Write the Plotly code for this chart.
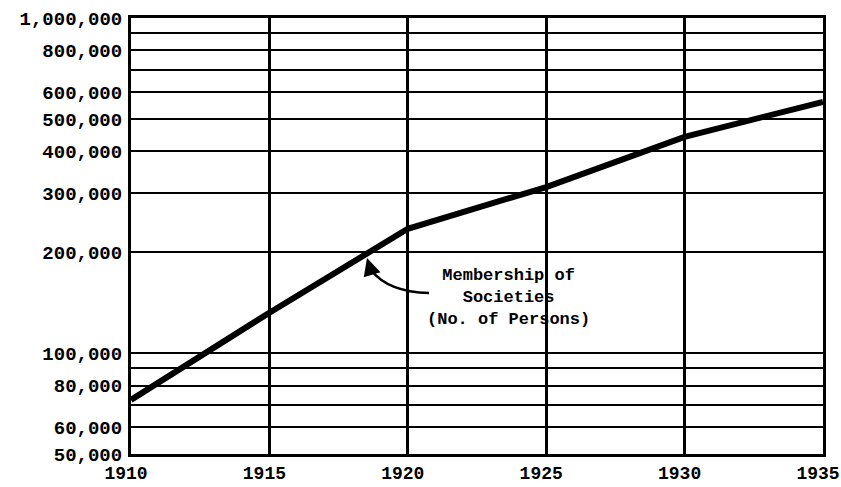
import math
import plotly.graph_objects as go

# Membership of societies, number of persons (log scale)
years = [1910, 1915, 1920, 1925, 1930, 1935]
members = [72500, 132000, 235000, 313000, 442000, 562000]

# Horizontal rules on the ratio scale and the values that carry a label
grid_values = [50000, 60000, 70000, 80000, 90000, 100000, 200000, 300000,
               400000, 500000, 600000, 700000, 800000, 900000, 1000000]
labelled = {50000, 60000, 80000, 100000, 200000, 300000, 400000,
            500000, 600000, 800000, 1000000}
grid_text = [f"{v:,}" if v in labelled else "" for v in grid_values]

year_ticks = [1910, 1915, 1920, 1925, 1930, 1935]

FONT = "Liberation Mono"
W, H = 841, 487
L, R, T, B = 131, 18, 18, 33
PW, PH = W - L - R, H - T - B


def px_to_paper(x, y):
    return (x - L) / PW, (H - B - y) / PH


fig = go.Figure()
fig.add_trace(go.Scatter(
    x=years, y=members, mode="lines",
    line=dict(color="black", width=6),
    hoverinfo="x+y", showlegend=False,
))

# Curved leader from the caption to the line
p0 = px_to_paper(429, 293)
pc = px_to_paper(388, 292)
p1 = px_to_paper(371, 270)
fig.add_shape(
    type="path", xref="paper", yref="paper",
    path=f"M {p0[0]},{p0[1]} Q {pc[0]},{pc[1]} {p1[0]},{p1[1]}",
    line=dict(color="black", width=2.5),
)
tip = px_to_paper(367, 258)
fig.add_annotation(
    x=tip[0], y=tip[1], xref="paper", yref="paper",
    text="", showarrow=True, ax=4, ay=13,
    arrowhead=2, arrowsize=1.4, arrowwidth=2.5, arrowcolor="black",
)

cap = px_to_paper(508, 297)
fig.add_annotation(
    x=cap[0], y=cap[1], xref="paper", yref="paper",
    text="Membership of<br>Societies<br>(No. of Persons)",
    showarrow=False, align="center",
    font=dict(family=FONT, size=17, color="black", weight="bold"),
)

fig.update_layout(
    width=W, height=H,
    margin=dict(l=L, r=R, t=T, b=B),
    paper_bgcolor="white", plot_bgcolor="white",
    font=dict(family=FONT, color="black"),
    xaxis=dict(
        range=[1910, 1935.0005], tickvals=year_ticks,
        ticktext=[str(y) for y in year_ticks],
        showgrid=True, gridcolor="black", gridwidth=2.5,
        showline=True, linecolor="black", linewidth=3, mirror=True,
        ticks="", zeroline=False, automargin=False,
        ticklabelstandoff=0, ticklabelshift=-5,
        tickfont=dict(family=FONT, size=18, color="black", weight="bold"),
    ),
    yaxis=dict(
        type="log", range=[math.log10(50000), math.log10(1000000)],
        tickvals=grid_values, ticktext=grid_text,
        showgrid=True, gridcolor="black", gridwidth=2,
        showline=True, linecolor="black", linewidth=3, mirror=True,
        ticks="", ticklabelstandoff=2, automargin=False,
        tickfont=dict(family=FONT, size=19, color="black", weight="bold"),
    ),
)

fig.write_html("out.html")
